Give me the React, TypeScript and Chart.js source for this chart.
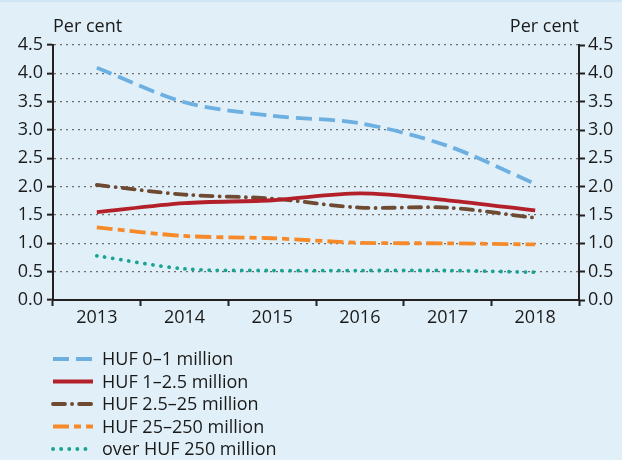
import React, { useEffect, useRef } from "react";
import { Chart, registerables } from "chart.js";
Chart.register(...registerables);

const years = ["2013", "2014", "2015", "2016", "2017", "2018"];
const seriesNames = [
  "HUF 0\u20131 million",
  "HUF 1\u20132.5 million",
  "HUF 2.5\u201325 million",
  "HUF 25\u2013250 million",
  "over HUF 250 million",
];
const huf0to1 = [4.1, 3.49, 3.25, 3.12, 2.72, 2.05];
const huf1to2_5 = [1.55, 1.71, 1.76, 1.88, 1.76, 1.58];
const huf2_5to25 = [2.03, 1.86, 1.79, 1.63, 1.63, 1.45];
const huf25to250 = [1.28, 1.13, 1.09, 1.01, 1.0, 0.98];
const over250 = [0.78, 0.55, 0.52, 0.52, 0.52, 0.49];
const axisTitle = "Per cent";

const FONT = "'Open Sans', sans-serif";
const FS = 18;
const TXT = "#1a1a1a";

const styles = [
  { color: "#6cafe0", dash: [16, 7], cap: "butt" as CanvasLineCap },
  { color: "#b3202a", dash: [] as number[], cap: "butt" as CanvasLineCap },
  { color: "#6e4a32", dash: [12, 7, 0.1, 7], cap: "round" as CanvasLineCap },
  { color: "#f68a2a", dash: [16, 5, 7, 5], cap: "butt" as CanvasLineCap },
  { color: "#19a394", dash: [0.1, 8], cap: "round" as CanvasLineCap },
];

const extrasPlugin = {
  id: "extras",
  afterDraw(chart: any) {
    const ctx = chart.ctx as CanvasRenderingContext2D;
    const area = chart.chartArea;
    ctx.save();
    ctx.font = `${FS}px ${FONT}`;
    ctx.fillStyle = TXT;
    ctx.textBaseline = "middle";
    ctx.textAlign = "left";
    ctx.fillText(axisTitle, area.left, 25);
    ctx.textAlign = "right";
    ctx.fillText(axisTitle, area.right, 25);
    // legend
    const x0 = 53, x1 = 93, tx = 102;
    const y0 = 357, dy = 22.5;
    chart.data.datasets.forEach((ds: any, i: number) => {
      const y = y0 + i * dy;
      ctx.beginPath();
      ctx.strokeStyle = ds.borderColor;
      ctx.lineWidth = ds.borderWidth;
      ctx.lineCap = ds.borderCapStyle;
      ctx.setLineDash(ds.borderDash || []);
      ctx.moveTo(x0, y);
      ctx.lineTo(x1, y);
      ctx.stroke();
      ctx.setLineDash([]);
      ctx.textAlign = "left";
      ctx.fillStyle = TXT;
      ctx.fillText(ds.label, tx, y + 1);
    });
    ctx.restore();
  },
};

export default function App() {
  const ref = useRef<HTMLCanvasElement>(null);
  useEffect(() => {
    const values = [huf0to1, huf1to2_5, huf2_5to25, huf25to250, over250];
    const chart = new Chart(ref.current!, {
      type: "line",
      data: {
        labels: years,
        datasets: values.map((v, i) => ({
          label: seriesNames[i],
          data: v,
          borderColor: styles[i].color,
          backgroundColor: styles[i].color,
          borderWidth: 3.8,
          borderDash: styles[i].dash,
          borderCapStyle: styles[i].cap,
          pointRadius: 0,
          tension: 0.3,
          fill: false,
        })),
      },
      options: {
        responsive: false,
        animation: false,
        layout: { padding: { top: 43, bottom: 130, left: 0, right: 0 } },
        plugins: { legend: { display: false }, tooltip: { enabled: false } },
        scales: {
          x: {
            offset: true,
            grid: {
              offset: true,
              drawOnChartArea: false,
              tickLength: 6,
              tickColor: "#231f20",
              tickWidth: 2,
            },
            border: { color: "#231f20", width: 2 },
            ticks: { color: TXT, font: { family: FONT, size: FS }, padding: 1 },
            afterFit: (s: any) => { s.height = 30; },
          },
          y: {
            position: "left",
            min: 0,
            max: 4.5,
            ticks: {
              stepSize: 0.5,
              color: TXT,
              font: { family: FONT, size: FS },
              padding: 4,
              callback: (v: any) => Number(v).toFixed(1),
            },
            grid: {
              color: (c: any) => (c.tick && c.tick.value === 0 ? "rgba(0,0,0,0)" : "#6e6e6e"),
              lineWidth: 1.3,
              tickColor: "#231f20",
              tickLength: 6,
              tickWidth: 2,
              tickBorderDash: [],
            },
            border: { color: "#231f20", width: 2, dash: [2, 4] },
            afterFit: (s: any) => { s.width = 53; },
          },
          y2: {
            position: "right",
            min: 0,
            max: 4.5,
            ticks: {
              stepSize: 0.5,
              color: TXT,
              font: { family: FONT, size: FS },
              padding: 3,
              callback: (v: any) => Number(v).toFixed(1),
            },
            grid: {
              drawOnChartArea: false,
              tickColor: "#231f20",
              tickLength: 6,
              tickWidth: 2,
            },
            border: { color: "#231f20", width: 2 },
            afterFit: (s: any) => { s.width = 43; },
          },
        },
      },
      plugins: [extrasPlugin],
    } as any);
    return () => chart.destroy();
  }, []);
  return (
    <div
      style={{
        position: "fixed",
        left: 0,
        top: 0,
        width: 622,
        height: 460,
        background: "#e1f0f8",
        borderTop: "2px solid #cfe6f4",
        boxSizing: "border-box",
      }}
    >
      <canvas ref={ref} width={622} height={458} style={{ display: "block" }} />
    </div>
  );
}
